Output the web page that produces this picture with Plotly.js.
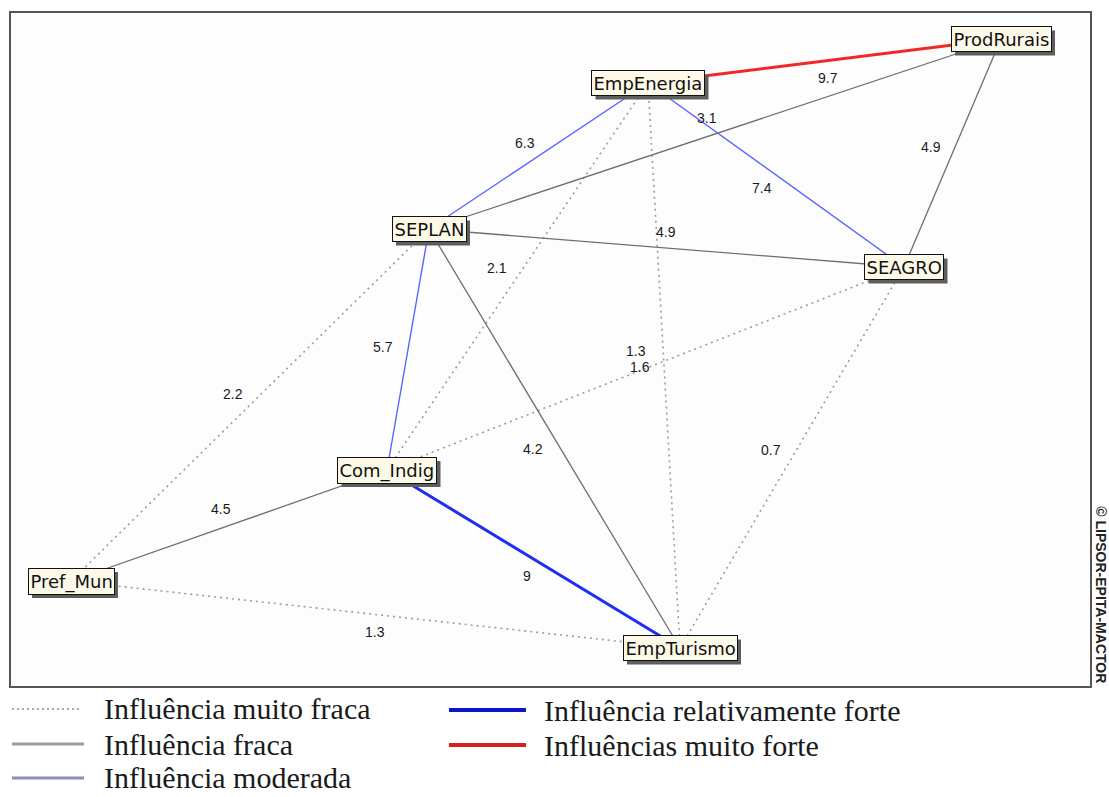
<!DOCTYPE html>
<html><head><meta charset="utf-8">
<script src="https://cdn.plot.ly/plotly-3.0.1.min.js"></script>
<style>html,body{margin:0;padding:0;background:#fff}#chart{width:1109px;height:797px}</style>
</head><body><div id="chart"></div>
<script>
// Actors (nodes) and their positions in the map
const nodeNames = ['ProdRurais','EmpEnergia','SEPLAN','SEAGRO','Com_Indig','Pref_Mun','EmpTurismo'];
const nodeX = [991, 638, 419, 894, 377, 61, 670];
const nodeY = [27, 71, 217, 255, 458, 569, 636];

// Influence links
const edgeFrom  = ['EmpEnergia','SEPLAN','SEAGRO','SEPLAN','EmpEnergia','SEPLAN','EmpEnergia','EmpEnergia','Com_Indig','SEPLAN','SEPLAN','SEPLAN','Com_Indig','Com_Indig','Pref_Mun','SEAGRO'];
const edgeTo    = ['ProdRurais','ProdRurais','ProdRurais','EmpEnergia','SEAGRO','SEAGRO','Com_Indig','EmpTurismo','SEAGRO','Com_Indig','Pref_Mun','EmpTurismo','Pref_Mun','EmpTurismo','EmpTurismo','EmpTurismo'];
const edgeValue = [9.7, 3.1, 4.9, 6.3, 7.4, 4.9, 2.1, 1.3, 1.6, 5.7, 2.2, 4.2, 4.5, 9, 1.3, 0.7];
const edgeClass = [4, 1, 1, 2, 2, 1, 0, 0, 0, 2, 0, 1, 1, 3, 0, 0];
const labelX = [818, 697, 921, 515, 752, 656, 487, 626, 630, 373, 223, 523, 211, 517, 365, 761];
const labelY = [66, 106, 135, 131, 176, 220, 256, 339, 355, 335, 382, 437, 497, 564, 620, 438];

// Legend classes
const classNames = ['Influência muito fraca','Influência fraca','Influência moderada','Influência relativamente forte','Influências muito forte'];

// ---- styles ----
const edgeStyles = [
  {color:'#9c9c9c', width:1.6, dash:'2px,4px'},
  {color:'#6e6e6e', width:1.3, dash:'solid'},
  {color:'#5a64ff', width:1.4, dash:'solid'},
  {color:'#1e2ef2', width:3, dash:'solid'},
  {color:'#f02828', width:3, dash:'solid'}
];
const legendStyles = [
  {color:'#a8a8a8', width:2, dash:'2px,3px'},
  {color:'#9a9a9a', width:3, dash:'solid'},
  {color:'#8a8eb8', width:3, dash:'solid'},
  {color:'#0a16c8', width:4, dash:'solid'},
  {color:'#d42020', width:4, dash:'solid'}
];

const idx = n => nodeNames.indexOf(n);
const traces = classNames.map((name, c) => {
  const xs = [], ys = [];
  edgeClass.forEach((k, i) => {
    if (k !== c) return;
    const a = idx(edgeFrom[i]), b = idx(edgeTo[i]);
    xs.push(nodeX[a], nodeX[b], null);
    ys.push(nodeY[a], nodeY[b], null);
  });
  return {type:'scatter', mode:'lines', x:xs, y:ys, name:name, showlegend:false,
          hoverinfo:'skip', line:edgeStyles[c]};
});

const annotations = [];
// edge value labels
edgeValue.forEach((v, i) => {
  annotations.push({x:labelX[i], y:labelY[i], xref:'x', yref:'y', text:String(v), showarrow:false,
    font:{family:'Liberation Sans, Arial, sans-serif', size:14, color:'#1a1a1a'}});
});
// node labels
const nodeAnnStart = annotations.length;
nodeNames.forEach((n, i) => {
  annotations.push({x:nodeX[i], y:nodeY[i], xref:'x', yref:'y', text:n, showarrow:false,
    bgcolor:'#fdf9e8', bordercolor:'#111', borderwidth:1, borderpad:1.5,
    font:{family:'DejaVu Sans, sans-serif', size:18, color:'#111'}});
});
// watermark
annotations.push({x:1.0085, y:0.003, xref:'paper', yref:'paper', xanchor:'center', yanchor:'bottom',
  text:'© LIPSOR-EPITA-MACTOR', showarrow:false, textangle:90,
  font:{family:'Liberation Sans, Arial, sans-serif', size:14, color:'#222', weight:'bold'}});

// manual legend (two columns)
const plotTop = 12, plotBottom = 687, plotLeft = 10, plotRight = 1091;
const pxX = px => (px - plotLeft) / (plotRight - plotLeft);
const pxY = py => (plotBottom - py) / (plotBottom - plotTop);
const legendPos = [
  {x0:12, x1:80, tx:102, y:709},
  {x0:12, x1:84, tx:102, y:744},
  {x0:12, x1:84, tx:102, y:778},
  {x0:449, x1:526, tx:542, y:710},
  {x0:449, x1:526, tx:542, y:745}
];
const shapes = [{type:'rect', xref:'paper', yref:'paper', x0:0, x1:1, y0:0, y1:1,
  line:{color:'#555', width:2}, layer:'above'}];
classNames.forEach((name, c) => {
  const p = legendPos[c];
  shapes.push({type:'line', xref:'paper', yref:'paper', x0:pxX(p.x0), x1:pxX(p.x1), y0:pxY(p.y), y1:pxY(p.y),
    line:legendStyles[c]});
  annotations.push({x:pxX(p.tx), y:pxY(p.y), xref:'paper', yref:'paper', text:name, showarrow:false,
    xanchor:'left', yanchor:'middle',
    font:{family:'Liberation Serif, Times New Roman, serif', size:30, color:'#1a1a1a'}});
});

const layout = {
  width:1109, height:797,
  margin:{l:plotLeft, r:1109-plotRight, t:plotTop, b:797-plotBottom, pad:0},
  paper_bgcolor:'#ffffff', plot_bgcolor:'#fdfdfd',
  xaxis:{range:[0, plotRight-plotLeft], visible:false, fixedrange:true},
  yaxis:{range:[plotBottom-plotTop, 0], visible:false, fixedrange:true},
  showlegend:false,
  annotations:annotations, shapes:shapes
};
Plotly.newPlot('chart', traces, layout, {staticPlot:true, displayModeBar:false}).then(gd => {
  // drop shadows under node label boxes, sized from the rendered boxes
  const extra = [];
  nodeNames.forEach((n, i) => {
    const g = gd.querySelector('.annotation[data-index="' + (nodeAnnStart + i) + '"] rect.bg');
    if (!g) return;
    const w = parseFloat(g.getAttribute('width')), h = parseFloat(g.getAttribute('height'));
    extra.push({type:'rect', xref:'x', yref:'y', xsizemode:'pixel', ysizemode:'pixel',
      xanchor:nodeX[i], yanchor:nodeY[i], x0:-w/2 + 4, x1:w/2 + 4, y0:-h/2 - 4, y1:h/2 - 4,
      fillcolor:'#5e5e5e', line:{width:0}, layer:'above'});
  });
  return Plotly.relayout(gd, {shapes: shapes.concat(extra)});
});
</script></body></html>
